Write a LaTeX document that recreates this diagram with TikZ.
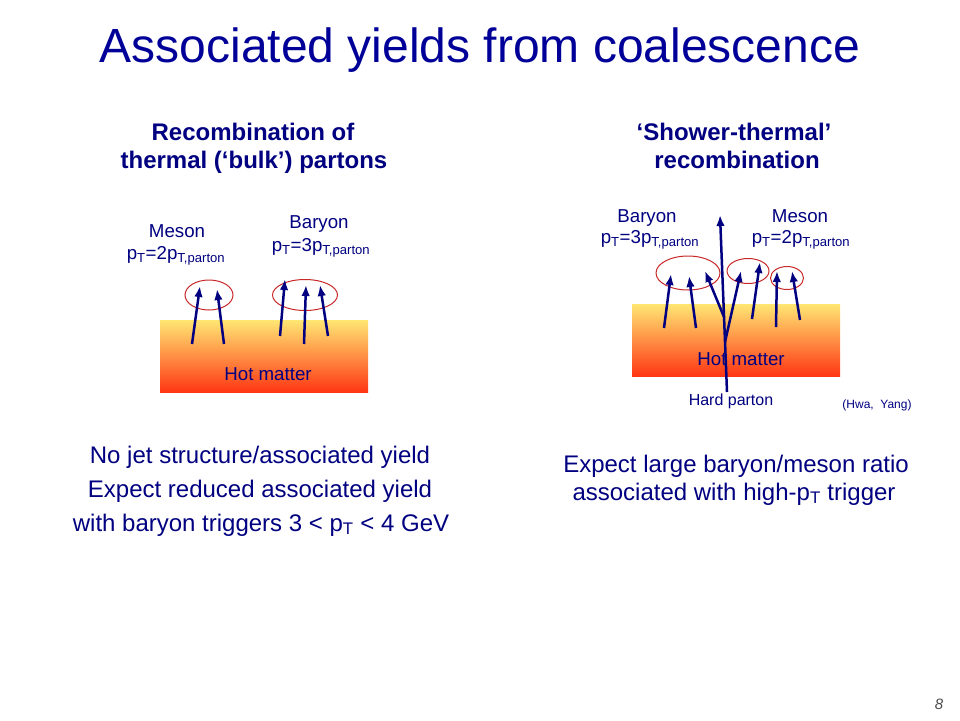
\documentclass[tikz,border=0pt]{standalone}
\usepackage{fontspec}
\setmainfont{Liberation Sans}
\usetikzlibrary{arrows.meta,shapes.geometric}
\definecolor{titleblue}{RGB}{0,0,153}
\definecolor{textblue}{RGB}{0,0,128}
\definecolor{ringred}{RGB}{200,40,40}
\definecolor{hotyellow}{RGB}{255,230,115}
\definecolor{hotorange}{RGB}{255,165,60}
\definecolor{hotred}{RGB}{255,55,20}
\newcommand\pT{p\textsubscript{T}}
\begin{document}
\begin{tikzpicture}[x=1pt,y=-1pt,
	txt/.style={anchor=base, inner sep=0pt, text=textblue},
	bigtxt/.style={txt, font=\fontsize{24}{28}\selectfont},
	headtxt/.style={txt, font=\fontsize{24}{28}\selectfont\bfseries},
	labeltxt/.style={txt, font=\fontsize{18.7}{22}\selectfont},
	ring/.style={draw=ringred, line width=1pt, ellipse, inner sep=0pt},
	parton/.style={->, >={Latex[length=11pt,width=8.5pt]}, line width=2.5pt, textblue}]
	\useasboundingbox (0,0) rectangle (960,720);
	
	% Title and headings
	\node[txt, text=titleblue, font=\fontsize{48}{56}\selectfont] (title) at (480,62) {Associated yields from coalescence};
	\node[headtxt] (headA1) at (253,140) {Recombination of};
	\node[headtxt] (headA2) at (254,168) {thermal (‘bulk’) partons};
	\node[headtxt] (headB1) at (734,140) {‘Shower-thermal’};
	\node[headtxt] (headB2) at (737,168) {recombination};
	
	% Hot matter boxes
	\shade[top color=hotyellow, middle color=hotorange, bottom color=hotred] (160,320) rectangle (368,392);
	\shade[top color=hotyellow, middle color=hotorange, bottom color=hotred] (632,304) rectangle (840,376);
	\node[labeltxt] (hotA) at (268,380) {Hot matter};
	\node[labeltxt] (hotB) at (741,365) {Hot matter};
	
	% Left: thermal partons
	\node[labeltxt] (mesonA) at (177,237) {Meson};
	\node[labeltxt] (mesonAp) at (176,259) {\pT=2p\textsubscript{T,parton}};
	\node[labeltxt] (baryonA) at (319,228) {Baryon};
	\node[labeltxt] (baryonAp) at (321,251) {\pT=3p\textsubscript{T,parton}};
	\node[ring, minimum width=48, minimum height=30] (ringA1) at (209,295) {};
	\node[ring, minimum width=65, minimum height=31] (ringA2) at (305,295) {};
	\foreach \n/\tx/\ty/\hx/\hy in {1/192/344/200/286, 2/224/344/217/289, 3/280/336/285/279, 4/304/344/306/285, 5/328/336/320/285}
	{
		\coordinate (ta\n) at (\tx,\ty);
		\coordinate (ha\n) at (\hx,\hy);
		\draw[parton] (ta\n) -- (ha\n);
	}
	
	% Right: shower-thermal
	\node[labeltxt] (baryonB) at (647,222) {Baryon};
	\node[labeltxt] (baryonBp) at (650,243) {\pT=3p\textsubscript{T,parton}};
	\node[labeltxt] (mesonB) at (800,222) {Meson};
	\node[labeltxt] (mesonBp) at (801,243) {\pT=2p\textsubscript{T,parton}};
	\node[ring, minimum width=64, minimum height=34] (ringB1) at (688,273) {};
	\node[ring, minimum width=42, minimum height=25] (ringB2) at (748,271) {};
	\node[ring, minimum width=33, minimum height=23] (ringB3) at (787,278) {};
	\foreach \n/\tx/\ty/\hx/\hy in {1/664/328/671/274, 2/696/328/689/276, 3/752/319/760/262, 4/776/327/777/271, 5/800/320/792/271}
	{
		\coordinate (tb\n) at (\tx,\ty);
		\coordinate (hb\n) at (\hx,\hy);
		\draw[parton] (tb\n) -- (hb\n);
	}
	
	% Hard parton and its shower
	\coordinate (hard0) at (727,392);
	\coordinate (hard1) at (720,215);
	\coordinate (split1) at (724,317);
	\coordinate (split2) at (725,342);
	\coordinate (showL) at (705,271);
	\coordinate (showR) at (741,271);
	\draw[parton] (hard0) -- (hard1);
	\draw[parton] (split1) -- (showL);
	\draw[parton] (split2) -- (showR);
	\node[txt, font=\fontsize{16}{19}\selectfont] (hard) at (731,405) {Hard parton};
	\node[txt, font=\fontsize{12}{14}\selectfont] (ref) at (877,408) {(Hwa,\ \ Yang)};
	
	% Conclusions
	\node[bigtxt] (noteA1) at (260,463) {No jet structure/associated yield};
	\node[bigtxt] (noteA2) at (260,497) {Expect reduced associated yield};
	\node[bigtxt] (noteA3) at (261,531) {with baryon triggers 3 < \pT{} < 4 GeV};
	\node[bigtxt] (noteB1) at (736,472) {Expect large baryon/meson ratio};
	\node[bigtxt] (noteB2) at (734,500) {associated with high-\pT{} trigger};
	
	% Page number
	\node[txt, text=black!70, font=\fontsize{15}{18}\selectfont\itshape] (page) at (939,709) {8};
\end{tikzpicture}
\end{document}
